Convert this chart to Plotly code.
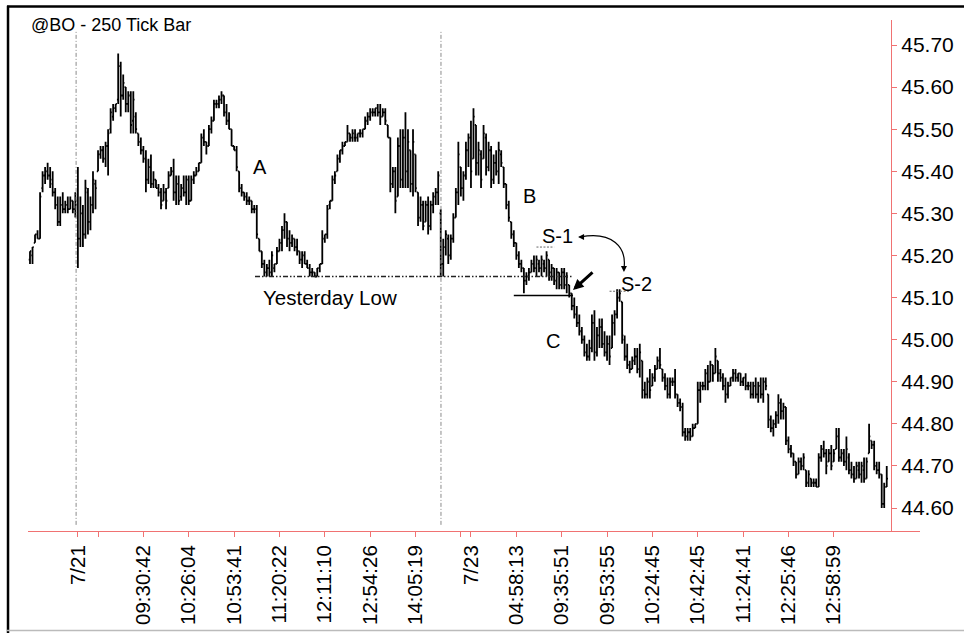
import plotly.graph_objects as go

# ---------------- data ----------------
high = [
    45.21,45.22,45.25,45.26,45.35,45.40,45.41,45.42,45.41,45.40,
    45.36,45.34,45.34,45.35,45.33,45.34,45.34,45.33,45.35,45.41,
    45.34,45.32,45.38,45.36,45.34,45.40,45.38,45.45,45.46,45.46,
    45.47,45.50,45.55,45.56,45.56,45.68,45.66,45.63,45.60,45.59,
    45.59,45.59,45.54,45.49,45.48,45.46,45.45,45.43,45.44,45.40,
    45.38,45.37,45.36,45.37,45.36,45.40,45.41,45.43,45.39,45.39,
    45.37,45.39,45.39,45.39,45.39,45.40,45.41,45.42,45.49,45.50,
    45.47,45.51,45.53,45.57,45.57,45.58,45.59,45.58,45.56,45.54,
    45.50,45.46,45.46,45.40,45.37,45.35,45.35,45.34,45.33,45.32,
    45.32,45.24,45.21,45.19,45.18,45.19,45.21,45.18,45.22,45.24,
    45.27,45.30,45.28,45.26,45.25,45.24,45.24,45.21,45.21,45.21,
    45.19,45.18,45.17,45.16,45.17,45.18,45.26,45.25,45.32,45.33,
    45.39,45.40,45.44,45.45,45.47,45.47,45.51,45.49,45.50,45.50,
    45.49,45.50,45.50,45.53,45.54,45.55,45.55,45.55,45.56,45.56,
    45.55,45.55,45.51,45.48,45.41,45.41,45.48,45.50,45.50,45.54,
    45.50,45.45,45.50,45.44,45.35,45.34,45.33,45.33,45.34,45.33,
    45.35,45.36,45.40,45.31,45.24,45.26,45.25,45.25,45.30,45.36,
    45.47,45.41,45.40,45.47,45.49,45.52,45.55,45.51,45.47,45.45,
    45.51,45.49,45.47,45.46,45.44,45.45,45.47,45.45,45.41,45.37,
    45.33,45.28,45.26,45.23,45.21,45.19,45.17,45.16,45.17,45.19,
    45.20,45.20,45.19,45.20,45.19,45.21,45.19,45.18,45.17,45.17,
    45.16,45.17,45.17,45.16,45.13,45.11,45.10,45.08,45.06,45.03,
    45.01,44.99,45.00,45.06,45.07,45.03,45.05,45.05,45.02,45.01,
    45.01,45.06,45.07,45.12,45.12,45.09,45.01,44.99,44.95,44.96,
    44.98,44.98,44.99,44.95,44.90,44.91,44.93,44.92,44.94,44.96,
    44.98,44.93,44.92,44.91,44.91,44.91,44.93,44.87,44.86,44.85,
    44.79,44.79,44.79,44.80,44.80,44.90,44.90,44.90,44.93,44.94,
    44.95,44.94,44.98,44.95,44.93,44.92,44.91,44.90,44.91,44.93,
    44.93,44.92,44.92,44.91,44.92,44.90,44.90,44.90,44.91,44.90,
    44.91,44.91,44.91,44.87,44.82,44.81,44.83,44.87,44.86,44.85,
    44.84,44.77,44.75,44.73,44.71,44.72,44.72,44.73,44.69,44.69,
    44.67,44.67,44.67,44.73,44.75,44.76,44.74,44.74,44.75,44.74,
    44.79,44.79,44.74,44.74,44.77,44.73,44.71,44.70,44.71,44.71,
    44.71,44.72,44.72,44.80,44.76,44.76,44.71,44.71,44.68,44.66,44.70,
]

low = [
    45.18,45.18,45.23,45.24,45.24,45.35,45.37,45.38,45.36,45.34,
    45.31,45.27,45.27,45.30,45.30,45.30,45.31,45.30,45.29,45.17,
    45.22,45.22,45.24,45.25,45.26,45.30,45.31,45.40,45.43,45.42,
    45.41,45.39,45.49,45.52,45.54,45.56,45.53,45.57,45.54,45.54,
    45.49,45.49,45.49,45.46,45.44,45.42,45.35,45.37,45.36,45.36,
    45.36,45.34,45.31,45.33,45.31,45.36,45.39,45.33,45.32,45.32,
    45.33,45.34,45.32,45.32,45.33,45.37,45.39,45.40,45.42,45.46,
    45.44,45.46,45.49,45.52,45.55,45.55,45.56,45.53,45.51,45.50,
    45.46,45.45,45.40,45.35,45.34,45.33,45.32,45.32,45.30,45.30,
    45.24,45.21,45.17,45.15,45.15,45.15,45.15,45.16,45.18,45.21,
    45.21,45.24,45.22,45.21,45.22,45.21,45.20,45.18,45.17,45.18,
    45.17,45.15,45.15,45.15,45.15,45.16,45.18,45.23,45.24,45.31,
    45.33,45.37,45.40,45.42,45.44,45.46,45.47,45.47,45.47,45.47,
    45.47,45.48,45.48,45.50,45.51,45.52,45.53,45.53,45.53,45.51,
    45.53,45.51,45.48,45.35,45.36,45.30,45.34,45.36,45.36,45.36,
    45.36,45.35,45.34,45.35,45.27,45.28,45.26,45.28,45.25,45.26,
    45.30,45.32,45.32,45.15,45.15,45.20,45.18,45.19,45.23,45.29,
    45.32,45.34,45.33,45.38,45.41,45.36,45.43,45.39,45.39,45.36,
    45.43,45.39,45.40,45.36,45.37,45.39,45.37,45.41,45.36,45.31,
    45.28,45.24,45.22,45.19,45.17,45.16,45.11,45.13,45.14,45.16,
    45.16,45.15,45.16,45.15,45.16,45.15,45.14,45.14,45.13,45.12,
    45.12,45.12,45.12,45.11,45.10,45.07,45.05,45.03,45.01,44.99,
    44.96,44.95,44.95,44.97,44.95,44.96,44.98,44.98,44.96,44.95,
    44.94,44.98,45.01,45.05,45.09,44.99,44.95,44.93,44.92,44.93,
    44.94,44.92,44.91,44.86,44.86,44.86,44.86,44.89,44.90,44.93,
    44.93,44.90,44.88,44.86,44.86,44.89,44.86,44.84,44.83,44.77,
    44.76,44.76,44.76,44.77,44.79,44.80,44.85,44.88,44.88,44.88,
    44.90,44.90,44.92,44.90,44.90,44.88,44.85,44.86,44.89,44.90,
    44.90,44.90,44.89,44.89,44.88,44.88,44.86,44.86,44.86,44.85,
    44.86,44.85,44.88,44.79,44.78,44.77,44.79,44.80,44.81,44.81,
    44.75,44.73,44.72,44.70,44.67,44.68,44.69,44.69,44.65,44.65,
    44.65,44.65,44.65,44.65,44.71,44.72,44.68,44.71,44.69,44.71,
    44.74,44.71,44.71,44.70,44.69,44.68,44.67,44.66,44.67,44.67,
    44.66,44.66,44.67,44.73,44.74,44.69,44.68,44.67,44.60,44.60,44.65,
]

open_ = [
    45.19,45.20,45.23,45.25,45.24,45.36,45.39,45.40,45.39,45.38,
    45.35,45.32,45.28,45.32,45.31,45.32,45.31,45.33,45.31,45.33,
    45.24,45.30,45.25,45.35,45.28,45.32,45.37,45.40,45.44,45.45,
    45.43,45.46,45.50,45.53,45.55,45.57,45.65,45.58,45.60,45.56,
    45.58,45.52,45.53,45.49,45.47,45.45,45.43,45.38,45.41,45.37,
    45.38,45.36,45.35,45.33,45.35,45.36,45.39,45.40,45.35,45.37,
    45.34,45.36,45.35,45.38,45.33,45.38,45.39,45.40,45.42,45.48,
    45.47,45.46,45.50,45.52,45.56,45.56,45.57,45.58,45.54,45.52,
    45.50,45.46,45.45,45.40,45.36,45.35,45.34,45.33,45.33,45.31,
    45.31,45.24,45.21,45.18,45.16,45.17,45.16,45.17,45.18,45.21,
    45.23,45.26,45.28,45.24,45.23,45.24,45.22,45.21,45.19,45.20,
    45.18,45.17,45.16,45.16,45.15,45.17,45.18,45.24,45.25,45.32,
    45.33,45.38,45.40,45.43,45.45,45.46,45.47,45.49,45.48,45.48,
    45.48,45.49,45.49,45.50,45.52,45.53,45.54,45.54,45.55,45.54,
    45.53,45.54,45.51,45.48,45.37,45.40,45.34,45.46,45.38,45.48,
    45.40,45.45,45.37,45.44,45.35,45.29,45.32,45.28,45.32,45.27,
    45.32,45.34,45.35,45.30,45.18,45.22,45.24,45.20,45.24,45.29,
    45.35,45.41,45.36,45.39,45.45,45.48,45.43,45.51,45.42,45.44,
    45.43,45.48,45.41,45.45,45.38,45.42,45.40,45.44,45.41,45.37,
    45.32,45.28,45.25,45.23,45.20,45.18,45.17,45.14,45.15,45.16,
    45.18,45.17,45.18,45.17,45.18,45.17,45.19,45.16,45.17,45.14,
    45.16,45.13,45.16,45.13,45.13,45.11,45.08,45.06,45.04,45.02,
    45.00,44.97,44.96,44.98,45.04,44.97,45.01,45.03,44.99,44.97,
    44.99,44.98,45.04,45.06,45.10,45.09,45.00,44.96,44.94,44.93,
    44.95,44.96,44.93,44.95,44.88,44.87,44.90,44.89,44.91,44.93,
    44.95,44.93,44.91,44.89,44.87,44.90,44.90,44.87,44.85,44.84,
    44.78,44.77,44.78,44.77,44.79,44.80,44.88,44.89,44.89,44.92,
    44.90,44.94,44.92,44.95,44.92,44.91,44.89,44.87,44.89,44.91,
    44.92,44.91,44.92,44.90,44.91,44.89,44.89,44.87,44.89,44.87,
    44.89,44.87,44.90,44.87,44.81,44.79,44.80,44.82,44.85,44.83,
    44.84,44.76,44.74,44.73,44.71,44.68,44.71,44.70,44.69,44.66,
    44.67,44.66,44.66,44.65,44.72,44.74,44.73,44.71,44.73,44.71,
    44.74,44.77,44.72,44.73,44.71,44.72,44.69,44.68,44.67,44.69,
    44.68,44.69,44.67,44.73,44.76,44.75,44.70,44.69,44.68,44.61,44.65,
]

close = [
    45.21,45.22,45.25,45.24,45.34,45.39,45.40,45.39,45.37,45.35,
    45.32,45.28,45.32,45.31,45.32,45.31,45.33,45.31,45.32,45.24,
    45.30,45.25,45.36,45.28,45.32,45.38,45.36,45.44,45.45,45.43,
    45.46,45.49,45.54,45.55,45.56,45.65,45.58,45.61,45.56,45.58,
    45.51,45.57,45.50,45.47,45.45,45.43,45.38,45.41,45.37,45.38,
    45.36,45.35,45.32,45.35,45.33,45.39,45.40,45.35,45.37,45.33,
    45.36,45.35,45.38,45.33,45.38,45.39,45.40,45.42,45.48,45.47,
    45.46,45.50,45.52,45.56,45.56,45.57,45.58,45.54,45.52,45.50,
    45.46,45.45,45.41,45.36,45.35,45.34,45.33,45.33,45.31,45.31,
    45.25,45.21,45.18,45.16,45.17,45.16,45.20,45.18,45.21,45.23,
    45.26,45.28,45.24,45.23,45.24,45.22,45.21,45.19,45.20,45.18,
    45.17,45.16,45.16,45.15,45.17,45.18,45.24,45.25,45.31,45.33,
    45.38,45.39,45.43,45.45,45.46,45.47,45.49,45.48,45.49,45.48,
    45.49,45.49,45.50,45.52,45.53,45.54,45.54,45.55,45.54,45.53,
    45.54,45.52,45.48,45.37,45.40,45.33,45.46,45.38,45.48,45.40,
    45.47,45.37,45.47,45.36,45.29,45.32,45.27,45.32,45.27,45.32,
    45.34,45.35,45.39,45.18,45.22,45.25,45.20,45.24,45.29,45.35,
    45.44,45.36,45.39,45.45,45.48,45.40,45.53,45.42,45.45,45.38,
    45.49,45.41,45.45,45.38,45.42,45.40,45.45,45.42,45.37,45.32,
    45.29,45.25,45.23,45.20,45.18,45.17,45.14,45.15,45.16,45.18,
    45.17,45.19,45.17,45.19,45.17,45.20,45.16,45.17,45.14,45.16,
    45.13,45.16,45.13,45.15,45.11,45.08,45.06,45.04,45.02,45.00,
    44.97,44.96,44.98,45.04,44.97,45.01,45.03,44.99,44.97,44.99,
    44.96,45.04,45.06,45.10,45.11,45.01,44.96,44.94,44.93,44.95,
    44.96,44.93,44.97,44.88,44.87,44.90,44.88,44.91,44.93,44.95,
    44.94,44.91,44.89,44.87,44.90,44.90,44.87,44.85,44.84,44.78,
    44.77,44.78,44.77,44.79,44.80,44.88,44.89,44.89,44.92,44.90,
    44.94,44.92,44.96,44.92,44.91,44.89,44.87,44.89,44.91,44.92,
    44.91,44.92,44.90,44.91,44.89,44.89,44.87,44.89,44.87,44.89,
    44.87,44.90,44.89,44.81,44.79,44.80,44.82,44.85,44.83,44.84,
    44.76,44.74,44.73,44.71,44.68,44.71,44.70,44.72,44.66,44.68,
    44.66,44.66,44.65,44.72,44.74,44.73,44.70,44.73,44.70,44.73,
    44.77,44.72,44.73,44.71,44.74,44.69,44.68,44.67,44.70,44.68,
    44.70,44.67,44.71,44.77,44.75,44.70,44.69,44.68,44.61,44.65,44.67,
]

bar_index = list(range(len(high)))

tick_bars = [19, 27, 45, 63, 81, 99, 117, 135, 153, 171, 175,
             193, 211, 229, 247, 265, 283, 301, 319]
tick_labels = ["7/21", "", "09:30:42", "10:26:04", "10:53:41", "11:20:22",
               "12:11:10", "12:54:26", "14:05:19", "", "7/23",
               "04:58:13", "09:35:51", "09:53:55", "10:24:45", "10:42:45",
               "11:24:41", "12:25:46", "12:58:59"]
price_ticks = [44.60, 44.70, 44.80, 44.90, 45.00, 45.10,
               45.20, 45.30, 45.40, 45.50, 45.60, 45.70]

session_breaks = [18.3, 163.1]
yesterday_low = 45.15
support_level = 45.105
s1_level = 45.22
s2_level = 45.115

assert len(high) == len(low) == len(open_) == len(close), (len(high), len(low), len(open_), len(close))

# ---------------- styling ----------------
FONT = "Liberation Sans, Arial, Helvetica, sans-serif"
RED = "#f07272"

fig = go.Figure()
fig.add_trace(go.Ohlc(
    x=bar_index, open=open_, high=high, low=low, close=close,
    increasing=dict(line=dict(color="black", width=1.8)),
    decreasing=dict(line=dict(color="black", width=1.8)),
    tickwidth=0.5, hoverinfo="skip", showlegend=False,
))

shapes = []
# session break lines
for sb in session_breaks:
    shapes.append(dict(type="line", xref="x", yref="paper", x0=sb, x1=sb,
                       y0=0.012, y1=0.98,
                       line=dict(color="#8a8a8a", width=1, dash="4px,2px,1px,2px")))
# yesterday low line
shapes.append(dict(type="line", xref="x", yref="y", x0=89.3, x1=215.5,
                   y0=yesterday_low, y1=yesterday_low,
                   line=dict(color="#222", width=1.3, dash="5px,2px,1.5px,2px,1.5px,2px")))
# support line
shapes.append(dict(type="line", xref="x", yref="y", x0=192, x1=215.5,
                   y0=support_level, y1=support_level,
                   line=dict(color="black", width=1.5)))
# S-1 / S-2 small dashed levels
shapes.append(dict(type="line", xref="x", yref="y", x0=201, x1=208,
                   y0=s1_level, y1=s1_level,
                   line=dict(color="#666", width=1, dash="2px,1.5px")))
shapes.append(dict(type="line", xref="x", yref="y", x0=230, x1=238,
                   y0=s2_level, y1=s2_level,
                   line=dict(color="#666", width=1, dash="2px,1.5px")))
# curved connector S-1 -> S-2
shapes.append(dict(type="path", xref="x", yref="y",
                   path="M 218.5,45.244 C 231,45.258 237,45.22 235.7,45.168",
                   line=dict(color="black", width=1.2)))
# frame
shapes.append(dict(type="line", xref="paper", yref="paper", x0=-0.0224, x1=-0.0224,
                   y0=-0.2, y1=1.028, line=dict(color="black", width=2.5)))
shapes.append(dict(type="line", xref="paper", yref="paper", x0=-0.0235, x1=1.06,
                   y0=1.0264, y1=1.0264, line=dict(color="black", width=2.5)))
shapes.append(dict(type="line", xref="paper", yref="paper", x0=-0.0235, x1=1.06,
                   y0=-0.1947, y1=-0.1947, line=dict(color="#bbbbbb", width=1.5)))

annotations = []
def txt(x, y, s, size=20, xanchor="center"):
    annotations.append(dict(x=x, y=y, xref="x", yref="y", text=s, showarrow=False,
                            font=dict(family=FONT, size=size, color="black"),
                            xanchor=xanchor, yanchor="middle"))

txt(91.3, 45.41, "A")
txt(198.4, 45.341, "B")
txt(207.5, 44.997, "C")
txt(209.5, 45.246, "S-1")
txt(240.5, 45.132, "S-2")
txt(119, 45.101, "Yesterday Low", size=20.5)

annotations.append(dict(xref="paper", yref="paper", x=0.001, y=0.99, text="@BO - 250 Tick Bar",
                        showarrow=False, xanchor="left", yanchor="middle",
                        font=dict(family=FONT, size=18, color="black")))
# arrowheads of the curved connector
annotations.append(dict(x=217.5, y=45.244, xref="x", yref="y", ax=7, ay=0, text="",
                        showarrow=True, arrowhead=2, arrowsize=1, arrowwidth=1.2, arrowcolor="black"))
annotations.append(dict(x=235.7, y=45.161, xref="x", yref="y", ax=0, ay=-7, text="",
                        showarrow=True, arrowhead=2, arrowsize=1, arrowwidth=1.2, arrowcolor="black"))
# thick pointer arrow
annotations.append(dict(x=215.5, y=45.118, xref="x", yref="y", ax=21, ay=-19, text="",
                        showarrow=True, arrowhead=2, arrowsize=0.7, arrowwidth=3, arrowcolor="black"))

fig.update_layout(
    width=964, height=633,
    margin=dict(l=28, r=44, t=20, b=102, autoexpand=False),
    paper_bgcolor="white", plot_bgcolor="white",
    showlegend=False, hovermode=False,
    font=dict(family=FONT, color="black", size=20),
    shapes=shapes, annotations=annotations,
    xaxis=dict(range=[-0.79, 353.2], rangeslider=dict(visible=False), automargin=False,
               showgrid=False, zeroline=False, showline=True, linecolor=RED, linewidth=1,
               ticks="outside", tickcolor=RED, ticklen=5, tickwidth=1,
               tickmode="array", tickvals=tick_bars, ticktext=tick_labels,
               tickangle=-90, tickfont=dict(family=FONT, size=20.5, color="black"),
               fixedrange=True),
    yaxis=dict(range=[44.5454, 45.7594], side="right", anchor="free", position=0.9675,
               automargin=False,
               showgrid=False, zeroline=False, showline=True, linecolor=RED, linewidth=1,
               ticks="outside", tickcolor=RED, ticklen=5, tickwidth=1,
               tickmode="array", tickvals=price_ticks, tickformat=".2f",
               tickfont=dict(family=FONT, size=21, color="black"),
               fixedrange=True),
)

fig.write_html("out.html", config={"displayModeBar": False},
               post_script="document.body.style.margin='0px';document.body.style.padding='0px';")
